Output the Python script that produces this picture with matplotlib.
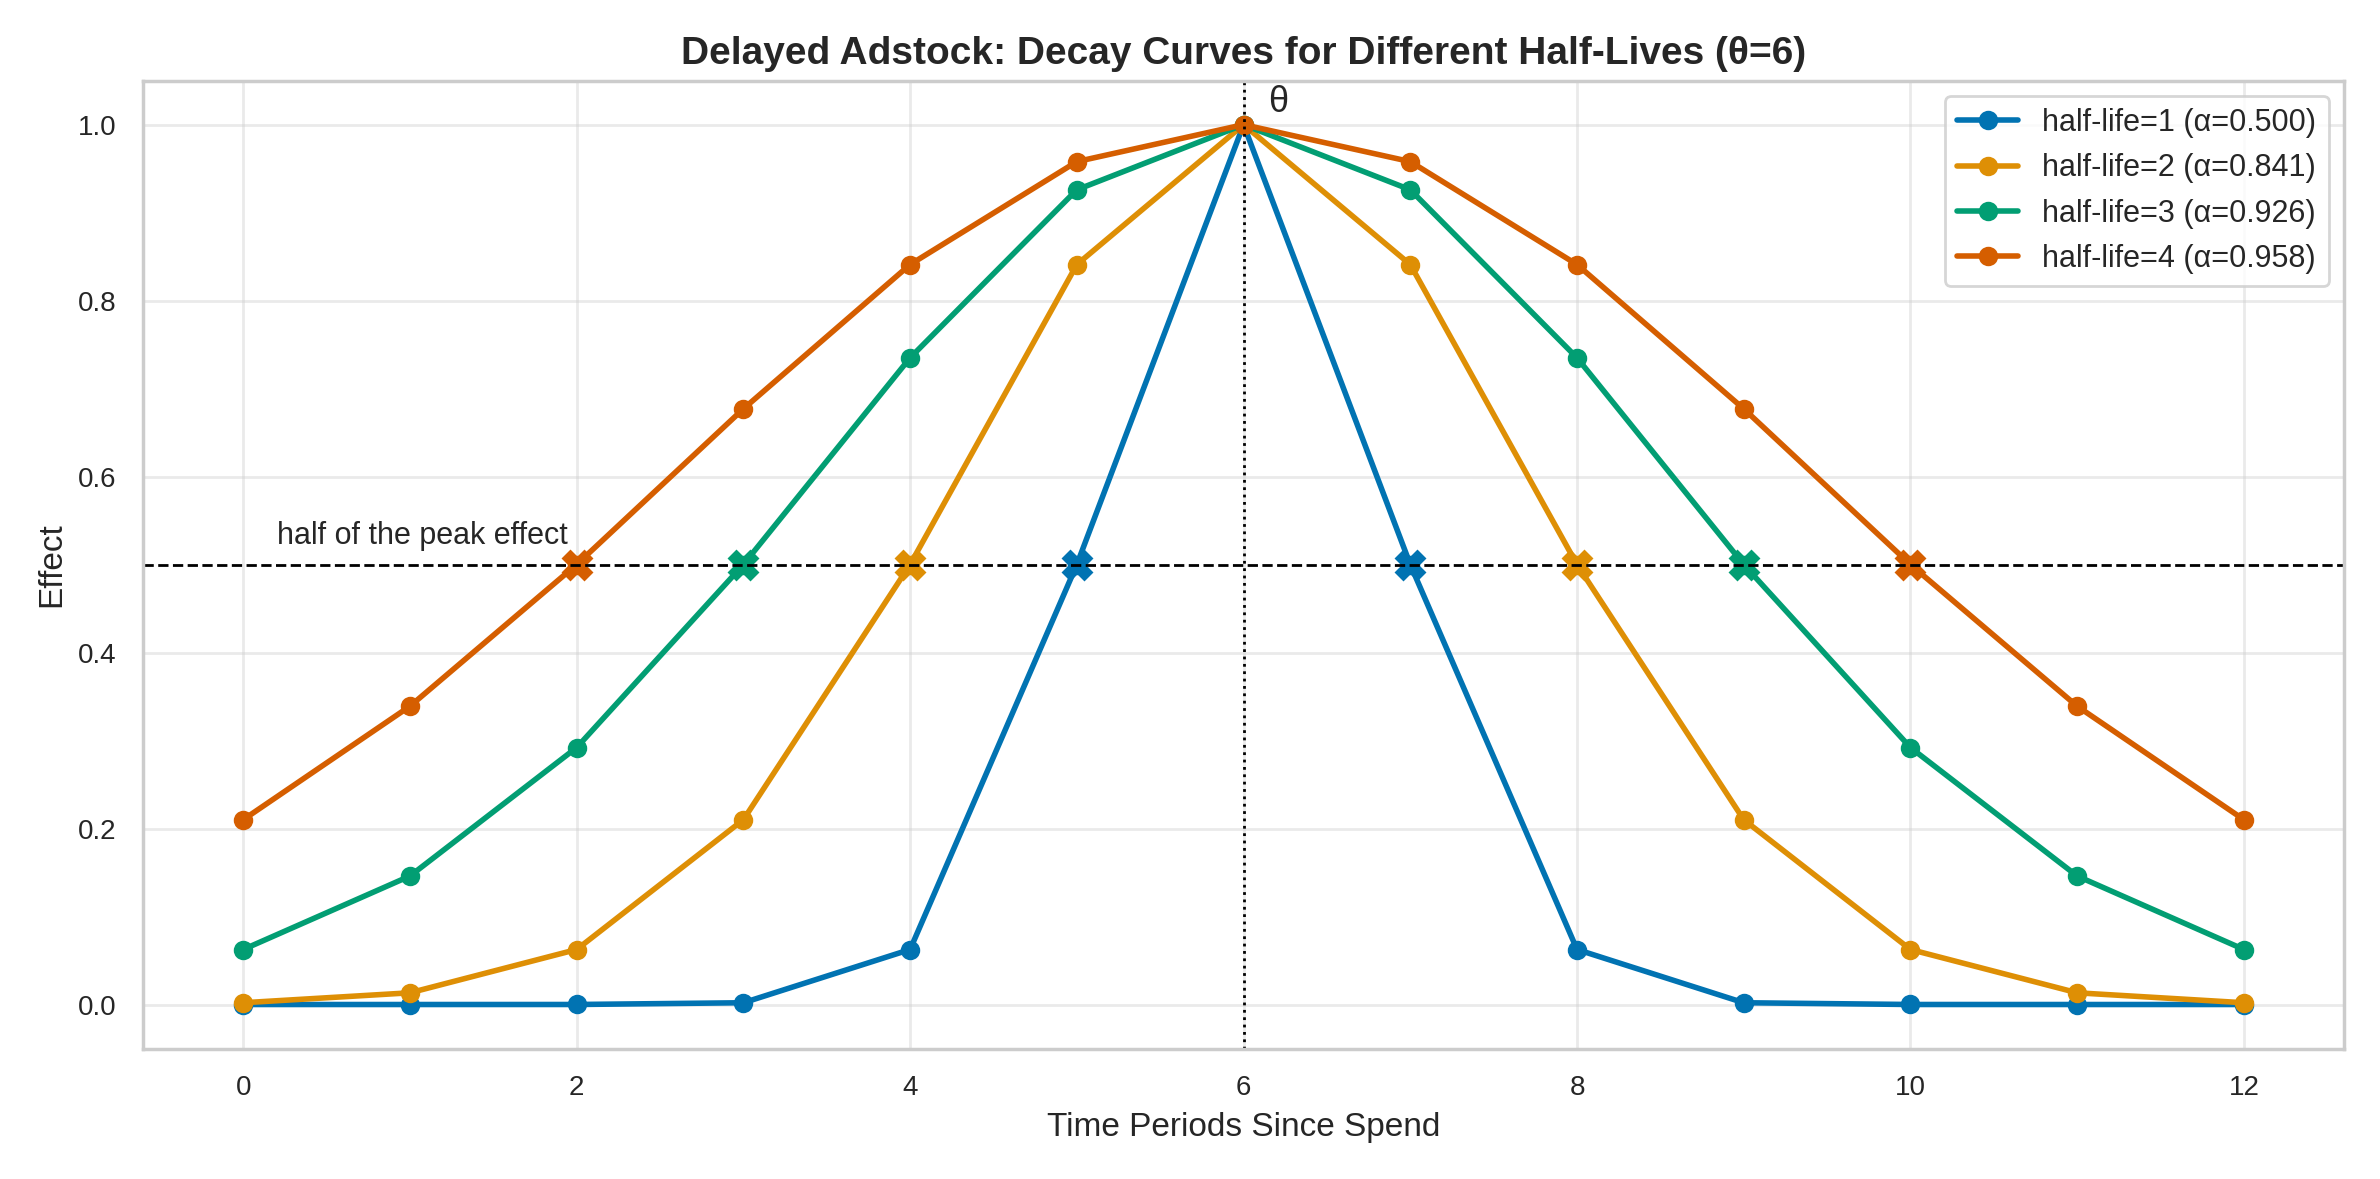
import matplotlib
matplotlib.use("Agg")
import matplotlib.pyplot as plt
import seaborn as sns

sns.set_theme(style="whitegrid")
plt.rcParams['font.family'] = ['Liberation Sans', 'DejaVu Sans']
t = list(range(13))
labels = ["half-life=1 (α=0.500)", "half-life=2 (α=0.841)", "half-life=3 (α=0.926)", "half-life=4 (α=0.958)"]
half_dist = [1, 2, 3, 4]
s1 = [0.0, 0.0, 0.00002, 0.002, 0.0625, 0.5, 1.0, 0.5, 0.0625, 0.002, 0.00002, 0.0, 0.0]
s2 = [0.002, 0.0133, 0.0625, 0.210, 0.5, 0.841, 1.0, 0.841, 0.5, 0.210, 0.0625, 0.0133, 0.002]
s3 = [0.0625, 0.146, 0.292, 0.5, 0.735, 0.926, 1.0, 0.926, 0.735, 0.5, 0.292, 0.146, 0.0625]
s4 = [0.210, 0.339, 0.5, 0.677, 0.841, 0.958, 1.0, 0.958, 0.841, 0.677, 0.5, 0.339, 0.210]
series = [s1, s2, s3, s4]
theta = 6

colors = sns.color_palette("colorblind")
fig, ax = plt.subplots(figsize=(11.9, 5.895), dpi=200)
for s, lab, c, h in zip(series, labels, colors, half_dist):
    ax.plot(t, s, "-o", color=c, lw=2, ms=6, label=lab)
    ax.plot([theta - h, theta + h], [0.5, 0.5], "X", color=c, ms=10, linestyle="none")
ax.axhline(0.5, color="black", ls="--", lw=1)
ax.axvline(theta, color="black", ls=":", lw=1)
ax.text(0.2, 0.515, "half of the peak effect", ha="left", va="bottom", fontsize=11)
ax.text(6.15, 1.005, "θ", fontsize=13, va="bottom")
ax.set_title("Delayed Adstock: Decay Curves for Different Half-Lives (θ=6)", fontsize=14, fontweight="bold")
ax.set_xlabel("Time Periods Since Spend", fontsize=12)
ax.set_ylabel("Effect", fontsize=12)
ax.set_xticks(range(0, 13, 2))
ax.set_xlim(-0.6, 12.6)
ax.set_ylim(-0.05, 1.05)
ax.tick_params(labelsize=10)
for sp in ax.spines.values():
    sp.set_color("#cccccc")
ax.grid(alpha=0.4)
ax.legend(loc="upper right", fontsize=11)
fig.tight_layout()
fig.savefig("out.png", dpi=200)
